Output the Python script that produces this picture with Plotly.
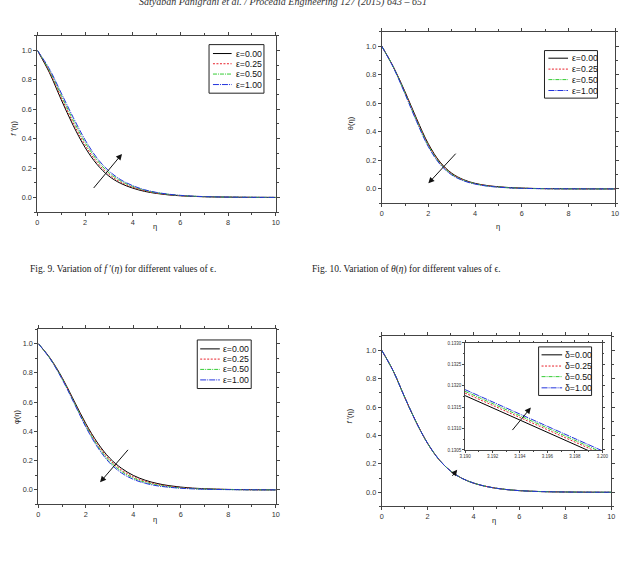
import plotly.graph_objects as go

W, H = 627, 562

# ---------------- data ----------------
eta = [0, 0.5, 1, 1.5, 2, 2.5, 3, 3.5, 4, 4.5, 5, 5.5, 6, 6.5, 7, 7.5, 8, 8.5, 9, 9.5, 10]

eps_labels = ["ε=0.00", "ε=0.25", "ε=0.50", "ε=1.00"]
delta_labels = ["δ=0.00", "δ=0.25", "δ=0.50", "δ=1.00"]

fp_eps_000 = [1.00, 0.850, 0.665, 0.490, 0.340, 0.225, 0.145, 0.095, 0.063, 0.041, 0.027, 0.017, 0.011, 0.0070, 0.0045, 0.0030, 0.0020, 0.0010, 0.0005, 0.0002, 0.0]
fp_eps_025 = [1.00, 0.858, 0.680, 0.507, 0.357, 0.239, 0.157, 0.103, 0.069, 0.045, 0.029, 0.019, 0.012, 0.0077, 0.0050, 0.0032, 0.0020, 0.0011, 0.0005, 0.0002, 0.0]
fp_eps_050 = [1.00, 0.866, 0.695, 0.526, 0.375, 0.254, 0.168, 0.112, 0.075, 0.049, 0.032, 0.021, 0.013, 0.0084, 0.0052, 0.0034, 0.0020, 0.0012, 0.0006, 0.0002, 0.0]
fp_eps_100 = [1.00, 0.875, 0.710, 0.545, 0.392, 0.268, 0.180, 0.120, 0.080, 0.052, 0.034, 0.022, 0.014, 0.0090, 0.0055, 0.0035, 0.0020, 0.0012, 0.0006, 0.0002, 0.0]

th_eps_000 = [1.00, 0.855, 0.680, 0.490, 0.315, 0.188, 0.110, 0.065, 0.039, 0.024, 0.015, 0.009, 0.0055, 0.0033, 0.0020, 0.0012, 0.0007, 0.0004, 0.0002, 0.0001, 0.0]
th_eps_025 = [1.00, 0.853, 0.675, 0.483, 0.308, 0.183, 0.106, 0.062, 0.037, 0.023, 0.014, 0.008, 0.0050, 0.0030, 0.0018, 0.0011, 0.0006, 0.0004, 0.0002, 0.0001, 0.0]
th_eps_050 = [1.00, 0.852, 0.670, 0.477, 0.302, 0.178, 0.102, 0.060, 0.036, 0.021, 0.013, 0.0075, 0.0045, 0.0027, 0.0016, 0.0009, 0.0005, 0.0003, 0.0001, 0.0, 0.0]
th_eps_100 = [1.00, 0.850, 0.665, 0.470, 0.295, 0.172, 0.098, 0.057, 0.034, 0.020, 0.012, 0.007, 0.0040, 0.0024, 0.0014, 0.0008, 0.0005, 0.0003, 0.0001, 0.0, 0.0]

ph_eps_000 = [1.00, 0.900, 0.768, 0.610, 0.453, 0.320, 0.218, 0.148, 0.099, 0.066, 0.044, 0.029, 0.019, 0.012, 0.0078, 0.0050, 0.0031, 0.0019, 0.0010, 0.0004, 0.0]
ph_eps_025 = [1.00, 0.898, 0.764, 0.605, 0.445, 0.310, 0.207, 0.137, 0.090, 0.059, 0.039, 0.025, 0.016, 0.010, 0.0067, 0.0043, 0.0026, 0.0016, 0.0008, 0.0003, 0.0]
ph_eps_050 = [1.00, 0.897, 0.761, 0.600, 0.438, 0.300, 0.196, 0.127, 0.081, 0.052, 0.033, 0.021, 0.013, 0.0085, 0.0055, 0.0035, 0.0021, 0.0013, 0.0007, 0.0003, 0.0]
ph_eps_100 = [1.00, 0.895, 0.757, 0.595, 0.430, 0.290, 0.185, 0.116, 0.072, 0.045, 0.028, 0.018, 0.011, 0.0070, 0.0044, 0.0028, 0.0017, 0.0010, 0.0005, 0.0002, 0.0]

fp_del_000 = [1.00, 0.855, 0.670, 0.495, 0.345, 0.230, 0.150, 0.098, 0.065, 0.043, 0.028, 0.018, 0.0115, 0.0073, 0.0046, 0.0030, 0.0019, 0.0011, 0.0005, 0.0002, 0.0]
fp_del_025 = [1.00, 0.855, 0.670, 0.495, 0.345, 0.230, 0.150, 0.098, 0.065, 0.043, 0.028, 0.018, 0.0115, 0.0073, 0.0046, 0.0030, 0.0019, 0.0011, 0.0005, 0.0002, 0.0]
fp_del_050 = [1.00, 0.855, 0.670, 0.495, 0.345, 0.230, 0.150, 0.098, 0.065, 0.043, 0.028, 0.018, 0.0115, 0.0073, 0.0046, 0.0030, 0.0019, 0.0011, 0.0005, 0.0002, 0.0]
fp_del_100 = [1.00, 0.855, 0.670, 0.495, 0.345, 0.230, 0.150, 0.098, 0.065, 0.043, 0.028, 0.018, 0.0115, 0.0073, 0.0046, 0.0030, 0.0019, 0.0011, 0.0005, 0.0002, 0.0]

inset_eta = [3.190, 3.200]
inset_del_000 = [0.13177, 0.13034]
inset_del_025 = [0.13183, 0.13040]
inset_del_050 = [0.13187, 0.13044]
inset_del_100 = [0.13191, 0.13048]

main_xticks = [0, 2, 4, 6, 8, 10]
main_yticks = [0.0, 0.2, 0.4, 0.6, 0.8, 1.0]
inset_xticks = [3.190, 3.192, 3.194, 3.196, 3.198, 3.200]
inset_yticks = [0.1305, 0.1310, 0.1315, 0.1320, 0.1325, 0.1330]

# ---------------- styles ----------------
colors = ["#000000", "#e8202a", "#33cc33", "#2233dd"]
dashes = ["solid", "2px,1.5px", "4px,1px,1px,1px", "6px,1px,1px,1px"]

def px(x):
    return x / W

def py(y):
    return 1 - y / H

fig = go.Figure()

panels = [
    ("x", "y", [fp_eps_000, fp_eps_025, fp_eps_050, fp_eps_100], eps_labels, (32, 275, 34, 212)),
    ("x2", "y2", [th_eps_000, th_eps_025, th_eps_050, th_eps_100], eps_labels, (383, 621, 30, 203)),
    ("x3", "y3", [ph_eps_000, ph_eps_025, ph_eps_050, ph_eps_100], eps_labels, (33, 275, 330, 507)),
    ("x4", "y4", [fp_del_000, fp_del_025, fp_del_050, fp_del_100], delta_labels, (383, 617, 337, 509)),
]

axcol = "#444444"

def axis_style(domain, rng, tickvals, fmt, minor_dtick, anchor, ticklen=3, fontsize=7.3):
    return dict(
        domain=domain, range=rng, anchor=anchor,
        showline=True, linecolor=axcol, linewidth=1, mirror="allticks",
        ticks="outside", ticklen=ticklen, tickwidth=1, tickcolor=axcol,
        tickvals=tickvals, tickformat=fmt,
        showgrid=False, zeroline=False,
        tickfont=dict(family="Liberation Sans, Arial", size=fontsize, color="#333333"),
        minor=dict(ticks="outside", ticklen=max(1, ticklen - 1), tickwidth=1,
                   tickcolor=axcol, dtick=minor_dtick, showgrid=False),
    )

layout_axes = {}
for i, (xa, ya, series, labels, (x0, x1, yt, yb)) in enumerate(panels):
    for k, s in enumerate(series):
        fig.add_trace(go.Scatter(
            x=eta, y=s, mode="lines", name=labels[k], showlegend=False,
            line=dict(color=colors[k], width=1, dash=dashes[k], shape="spline", smoothing=1.0),
            xaxis=xa, yaxis=ya))
    xname = "xaxis" if xa == "x" else "xaxis" + xa[1:]
    yname = "yaxis" if ya == "y" else "yaxis" + ya[1:]
    layout_axes[xname] = axis_style([px(x0), px(x1)], [0, 10], main_xticks, "d", 1, ya)
    layout_axes[yname] = axis_style([py(yb), py(yt)], [-0.1, 1.1], main_yticks, ".1f", 0.1, xa)

# inset
inset_series = [inset_del_000, inset_del_025, inset_del_050, inset_del_100]
for k, s in enumerate(inset_series):
    fig.add_trace(go.Scatter(
        x=inset_eta, y=s, mode="lines", name=delta_labels[k], showlegend=False,
        line=dict(color=colors[k], width=1, dash=dashes[k]),
        xaxis="x5", yaxis="y5"))
layout_axes["xaxis5"] = axis_style([px(468), px(608)], [3.190, 3.200], inset_xticks, ".3f", 0.001, "y5", ticklen=2, fontsize=4.5)
layout_axes["yaxis5"] = axis_style([py(452), py(344)], [0.1305, 0.1330], inset_yticks, ".4f", 0.00025, "x5", ticklen=2, fontsize=4.5)

fig.update_layout(**layout_axes)

shapes = []
annotations = []

# manual legends
legends = [
    ((207, 263, 43, 92), [52, 62.3, 72.7, 83.3], (211, 230), 232, eps_labels),
    ((549, 603, 49, 97), [56.7, 67.7, 78.3, 89.3], (553, 573), 574.5, eps_labels),
    ((195, 250, 341, 390), [350, 360.3, 370.7, 381.3], (198, 218), 219.5, eps_labels),
    ((543, 597, 348, 397), [356, 367.3, 378, 389.3], (546, 567), 567.5, delta_labels),
]
for (bx0, bx1, by0, by1), ys, (lx0, lx1), tx, labels in legends:
    shapes.append(dict(type="rect", xref="paper", yref="paper",
                       x0=px(bx0), x1=px(bx1), y0=py(by1), y1=py(by0),
                       line=dict(color="#222222", width=1), fillcolor="white", layer="above"))
    for k, yy in enumerate(ys):
        shapes.append(dict(type="line", xref="paper", yref="paper",
                           x0=px(lx0), x1=px(lx1), y0=py(yy), y1=py(yy),
                           line=dict(color=colors[k], width=1, dash=dashes[k]), layer="above"))
        annotations.append(dict(xref="paper", yref="paper", x=px(tx), y=py(yy),
                                text=labels[k], showarrow=False, xanchor="left", yanchor="middle",
                                font=dict(family="Liberation Sans, Arial", size=8.7, color="#111111")))

# axis titles
lab_font = dict(family="Liberation Sans, Arial", size=7.5, color="#222222")
ytitles = [("<i>f</i> ′(η)", 8, 127), ("θ(η)", 352, 122), ("φ(η)", 10, 418), ("<i>f</i> ′(η)", 350, 418)]
for t, x, y in ytitles:
    annotations.append(dict(xref="paper", yref="paper", x=px(x), y=py(y), text=t, showarrow=False,
                            textangle=-90, xanchor="center", yanchor="middle", font=lab_font))
xtitles = [(152, 227), (502, 227), (152, 522), (498, 523)]
for x, y in xtitles:
    annotations.append(dict(xref="paper", yref="paper", x=px(x), y=py(y), text="η", showarrow=False,
                            xanchor="center", yanchor="middle", font=lab_font))

# arrows (data coordinates)
arrows = [
    ("x", "y", 3.55, 0.296, 2.31, 0.054),
    ("x2", "y2", 2.00, 0.039, 3.23, 0.257),
    ("x3", "y3", 2.60, 0.052, 3.83, 0.284),
    ("x4", "y4", 3.29, 0.159, 3.03, 0.105),
    ("x5", "y5", 3.19479, 0.13149, 3.19336, 0.13093),
]
for xa, ya, hx, hy, tx_, ty_ in arrows:
    annotations.append(dict(xref=xa, yref=ya, x=hx, y=hy, axref=xa, ayref=ya, ax=tx_, ay=ty_,
                            text="", showarrow=True, arrowhead=2, arrowsize=1.2, arrowwidth=1,
                            arrowcolor="#111111"))

# captions and running header
cap_font = dict(family="Liberation Serif, Times New Roman", size=9.5, color="#222222")
annotations.append(dict(xref="paper", yref="paper", x=px(22), y=py(270), xanchor="left", yanchor="middle",
                        text="Fig. 9. Variation of <i>f</i> ′(<i>η</i>) for different values of ϵ.",
                        showarrow=False, font=cap_font))
annotations.append(dict(xref="paper", yref="paper", x=px(310), y=py(270), xanchor="left", yanchor="middle",
                        text="Fig. 10. Variation of <i>θ</i>(<i>η</i>) for different values of ϵ.",
                        showarrow=False, font=cap_font))
annotations.append(dict(xref="paper", yref="paper", x=px(282), y=py(-0.5), xanchor="center", yanchor="middle",
                        text="<i>Satyaban Panigrahi et al. / Procedia Engineering 127 (2015) 643 – 651</i>",
                        showarrow=False, font=dict(family="Liberation Serif, Times New Roman", size=10, color="#333333")))

fig.update_layout(
    width=W, height=H, margin=dict(l=0, r=0, t=0, b=0),
    paper_bgcolor="white", plot_bgcolor="white",
    showlegend=False, shapes=shapes, annotations=annotations,
)

fig.write_html("out.html")
